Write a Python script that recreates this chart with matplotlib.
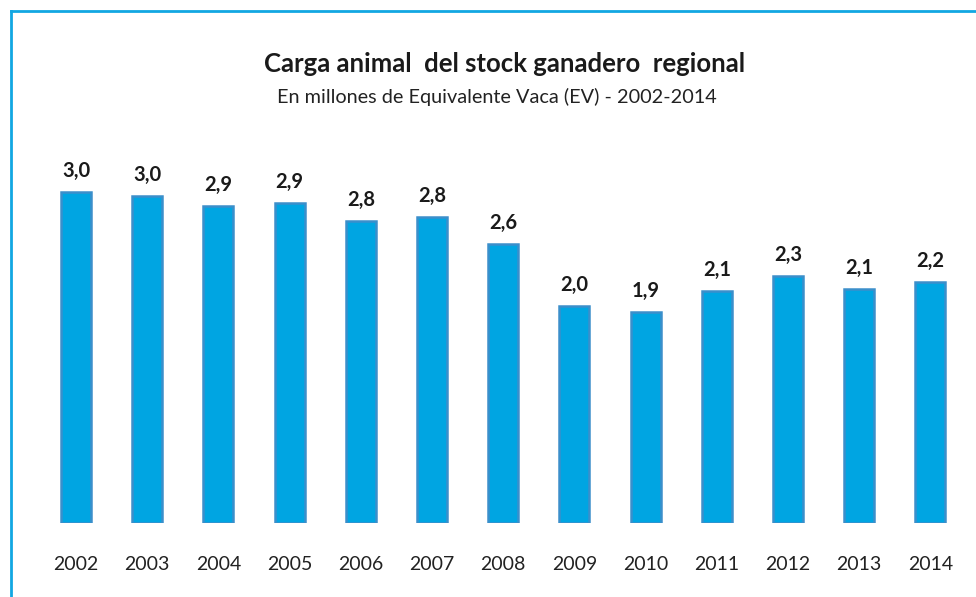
import matplotlib
matplotlib.use("Agg")
import matplotlib.pyplot as plt
from matplotlib.lines import Line2D

years = ["2002", "2003", "2004", "2005", "2006", "2007", "2008",
         "2009", "2010", "2011", "2012", "2013", "2014"]
values = [3.04, 3.00, 2.91, 2.94, 2.77, 2.81, 2.56, 1.99, 1.94, 2.13, 2.27, 2.15, 2.21]

title = "Carga animal  del stock ganadero  regional"
subtitle = "En millones de Equivalente Vaca (EV) - 2002-2014"

plt.rcParams['font.family'] = ['Lato', 'DejaVu Sans']

W, H = 976, 597
fig = plt.figure(figsize=(W / 100, H / 100), dpi=100)
fig.patch.set_facecolor("white")

base_px = 523
px_per_unit = 109
ymax = 3.5
ax_h = px_per_unit * ymax
left = 40.4 / W
width = 925.6 / W
bottom = (H - base_px) / H
ax = fig.add_axes([left, bottom, width, ax_h / H])

x = list(range(len(years)))
ax.bar(x, values, width=0.42, color="#00A5E2", edgecolor="#3B8FCB", linewidth=1.8)
for xi, v in zip(x, values):
    ax.text(xi, v + 0.10, f"{v:.1f}".replace(".", ","), ha="center", va="bottom",
            fontsize=14.5, fontweight="bold", color="#1a1a1a")

ax.set_xlim(-0.5, 12.5)
ax.set_ylim(0, ymax)
ax.set_xticks(x)
ax.set_xticklabels(years, fontsize=14, color="#222222")
ax.tick_params(axis="x", length=0, pad=24)
ax.set_yticks([])
for s in ax.spines.values():
    s.set_visible(False)
ax.patch.set_alpha(0)

fig.text(505 / W, 1 - 64 / H, title, ha="center", va="center",
         fontsize=18.5, fontweight="bold", color="#1a1a1a")
fig.text(497 / W, 1 - 97 / H, subtitle, ha="center", va="center",
         fontsize=14.3, color="#222222")

border_color = "#12A7E2"
fig.add_artist(Line2D([10.5 / W, 10.5 / W], [0, 1 - 10.5 / H], transform=fig.transFigure,
                      color=border_color, linewidth=2))
fig.add_artist(Line2D([10.5 / W, 1], [1 - 10.5 / H, 1 - 10.5 / H], transform=fig.transFigure,
                      color=border_color, linewidth=2))

fig.savefig("out.png", dpi=100, facecolor="white")
